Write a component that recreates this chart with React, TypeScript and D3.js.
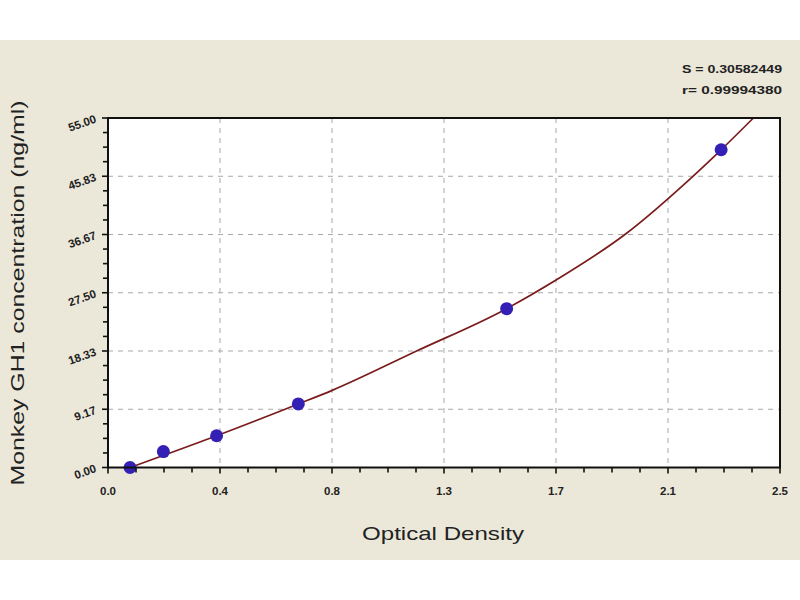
import React from "react";
import * as d3 from "d3";

const odValues = [0.082, 0.206, 0.404, 0.708, 1.483, 2.281];
const concValues = [0, 2.5, 5, 10, 25, 50];

const curveOd = [0.082, 0.404, 0.708, 0.832, 1.148, 1.483, 1.667, 1.923, 2.176, 2.281, 2.401];
const curveConc = [0, 5, 10, 12.1, 18.33, 25, 29.5, 36.67, 45.83, 50, 55];

const xTickValues = [0, 2.5 / 6, 5 / 6, 1.25, 5 / 3, 12.5 / 6, 2.5];
const xTickLabels = ["0.0", "0.4", "0.8", "1.3", "1.7", "2.1", "2.5"];
const yTickValues = [0, 55 / 6, 110 / 6, 27.5, 220 / 6, 275 / 6, 55];
const yTickLabels = ["0.00", "9.17", "18.33", "27.50", "36.67", "45.83", "55.00"];

const statLines = ["S = 0.30582449", "r= 0.99994380"];
const xTitle = "Optical Density";
const yTitle = "Monkey GH1  concentration (ng/ml)";

export default function App() {
  const W = 800, H = 600;
  const L = 108, R = 780, T = 118, B = 467.5;
  const x = d3.scaleLinear().domain([0, 2.5]).range([L, R]);
  const y = d3.scaleLinear().domain([0, 55]).range([B, T]);

  const xMinor: number[] = [];
  for (let i = 0; i < xTickValues.length - 1; i++) {
    const a = xTickValues[i], b = xTickValues[i + 1];
    for (let k = 1; k < 4; k++) xMinor.push(a + ((b - a) * k) / 4);
  }
  const yMinor: number[] = [];
  for (let i = 0; i < yTickValues.length - 1; i++) {
    const a = yTickValues[i], b = yTickValues[i + 1];
    for (let k = 1; k < 4; k++) yMinor.push(a + ((b - a) * k) / 4);
  }

  const curveData = curveOd.map((d, i) => [d, curveConc[i]] as [number, number]);
  const line = d3
    .line<[number, number]>()
    .x((d) => x(d[0]))
    .y((d) => y(d[1]))
    .curve(d3.curveMonotoneX);

  const font = "'Liberation Sans', Arial, sans-serif";

  return (
    <div style={{ position: "absolute", left: 0, top: 0, width: W, height: H, background: "#fff" }}>
      <svg width={W} height={H} style={{ display: "block" }}>
        <rect x={0} y={0} width={W} height={H} fill="#ffffff" />
        <rect x={0} y={40} width={W} height={520} fill="#ebe8d9" />
        <rect x={L} y={T} width={R - L} height={B - T} fill="#ffffff" />

        {/* grid */}
        {xTickValues.slice(1, -1).map((v, i) => (
          <line key={"gx" + i} x1={x(v)} x2={x(v)} y1={T} y2={B} stroke="#a8a8a8" strokeWidth={1} strokeDasharray="5,5" />
        ))}
        {yTickValues.slice(1, -1).map((v, i) => (
          <line key={"gy" + i} x1={L} x2={R} y1={y(v)} y2={y(v)} stroke="#a8a8a8" strokeWidth={1} strokeDasharray="5,5" />
        ))}

        {/* curve */}
        <path d={line(curveData) || ""} fill="none" stroke="#7a1c1c" strokeWidth={1.7} />

        {/* points */}
        {odValues.map((v, i) => (
          <circle key={"p" + i} cx={x(v)} cy={y(concValues[i])} r={6.5} fill="#3420b4" />
        ))}

        {/* frame */}
        <rect x={L} y={T} width={R - L} height={B - T} fill="none" stroke="#111" strokeWidth={2} />

        {/* x ticks */}
        {xTickValues.map((v, i) => (
          <line key={"xt" + i} x1={x(v)} x2={x(v)} y1={B} y2={B + 6} stroke="#111" strokeWidth={1.6} />
        ))}
        {xMinor.map((v, i) => (
          <line key={"xm" + i} x1={x(v)} x2={x(v)} y1={B} y2={B + 5} stroke="#111" strokeWidth={1.6} />
        ))}
        {/* y ticks */}
        {yTickValues.map((v, i) => (
          <line key={"yt" + i} x1={L - 6} x2={L} y1={y(v)} y2={y(v)} stroke="#111" strokeWidth={1.6} />
        ))}
        {yMinor.map((v, i) => (
          <line key={"ym" + i} x1={L - 5} x2={L} y1={y(v)} y2={y(v)} stroke="#111" strokeWidth={1.6} />
        ))}

        {/* x tick labels */}
        {xTickValues.map((v, i) => (
          <text key={"xl" + i} x={x(v)} y={B + 27} textAnchor="middle" fontFamily={font} fontSize={11.5} fontWeight="bold" fill="#222">
            {xTickLabels[i]}
          </text>
        ))}
        {/* y tick labels */}
        {yTickValues.map((v, i) => (
          <text
            key={"yl" + i}
            x={0}
            y={0}
            transform={`translate(${L - 11},${y(v) + 4}) rotate(-20)`}
            textAnchor="end"
            fontFamily={font}
            fontSize={11.5}
            fontWeight="bold"
            fill="#222"
          >
            {yTickLabels[i]}
          </text>
        ))}

        {/* titles */}
        <text x={443} y={540} textAnchor="middle" fontFamily={font} fontSize={19} fill="#222" textLength={162} lengthAdjust="spacingAndGlyphs">
          {xTitle}
        </text>
        <text
          x={0}
          y={0}
          transform={`translate(24,293) rotate(-90)`}
          textAnchor="middle"
          fontFamily={font}
          fontSize={18.5}
          fill="#222"
          textLength={385}
          lengthAdjust="spacingAndGlyphs"
        >
          {yTitle}
        </text>

        {/* stats */}
        {statLines.map((s, i) => (
          <text key={"s" + i} x={782} y={73 + i * 21} textAnchor="end" fontFamily={font} fontSize={11} fontWeight="bold" fill="#222" textLength={100} lengthAdjust="spacingAndGlyphs">
            {s}
          </text>
        ))}
      </svg>
    </div>
  );
}
